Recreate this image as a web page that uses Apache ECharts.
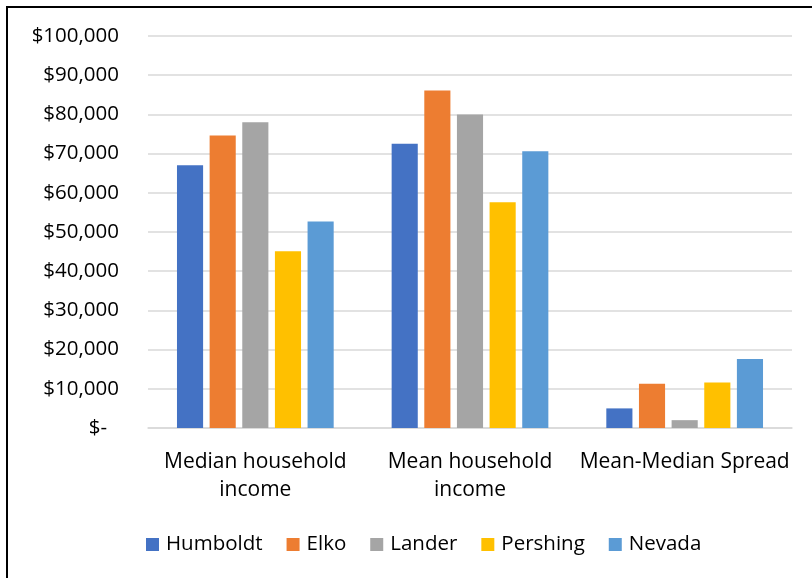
<!DOCTYPE html>
<html>
<head>
<meta charset="utf-8">
<script src="https://cdn.jsdelivr.net/npm/echarts@6/dist/echarts.min.js"></script>
<style>
  html, body { margin: 0; padding: 0; background: #fff; }
  #chart { width: 812px; height: 578px; }
  #frame {
    position: absolute; left: 6px; top: 6px; width: 820px; height: 600px;
    border-left: 2px solid #000; border-top: 2px solid #000; pointer-events: none;
  }
</style>
</head>
<body>
<div id="chart"></div>
<div id="frame"></div>
<script>
// household income by county
var categories = ['Median household\nincome', 'Mean household\nincome', 'Mean-Median Spread'];
var seriesNames = ['Humboldt', 'Elko', 'Lander', 'Pershing', 'Nevada'];
var humboldt = [67000, 72500, 5000];
var elko = [74600, 86100, 11300];
var lander = [78000, 80000, 2000];
var pershing = [45100, 57600, 11600];
var nevada = [52700, 70600, 17600];
var colors = ['#4472C4', '#ED7D31', '#A5A5A5', '#FFC000', '#5B9BD5'];

var FONT = '"Open Sans", sans-serif';
var FS = 20.5;

function money(v) {
  if (v === 0) return '{d|$-}';
  return '$' + String(v).replace(/\B(?=(\d{3})+(?!\d))/g, ',');
}

var values = [humboldt, elko, lander, pershing, nevada];
var series = seriesNames.map(function (name, i) {
  return {
    name: name,
    type: 'bar',
    barGap: '25%',
    barCategoryGap: '27%',
    itemStyle: { color: colors[i] },
    data: values[i]
  };
});

var chart = echarts.init(document.getElementById('chart'));
chart.setOption({
  animation: false,
  backgroundColor: '#fff',
  textStyle: { fontFamily: FONT },
  grid: { left: 148, right: 20, top: 36, bottom: 150, containLabel: false },
  legend: {
    left: 141, top: 529,
    icon: 'rect', itemWidth: 13, itemHeight: 13, itemGap: 24,
    textStyle: { fontFamily: FONT, fontSize: FS, color: '#000', padding: [0, 0, 0, 2] },
    data: seriesNames
  },
  xAxis: {
    type: 'category',
    data: categories,
    axisLine: { lineStyle: { color: '#d9d9d9', width: 1.5 } },
    axisTick: { show: false },
    axisLabel: { color: '#000', fontFamily: FONT, fontSize: 21, lineHeight: 28, margin: 20, interval: 0 }
  },
  yAxis: {
    type: 'value',
    min: 0, max: 100000, interval: 10000,
    axisLine: { show: false },
    axisTick: { show: false },
    splitLine: { lineStyle: { color: '#d9d9d9', width: 1.5 } },
    axisLabel: {
      color: '#000', fontFamily: FONT, fontSize: FS, margin: 29,
      formatter: money,
      rich: { d: { color: '#000', fontFamily: FONT, fontSize: FS, padding: [0, 12, 0, 0] } }
    }
  },
  series: series
});
</script>
</body>
</html>
